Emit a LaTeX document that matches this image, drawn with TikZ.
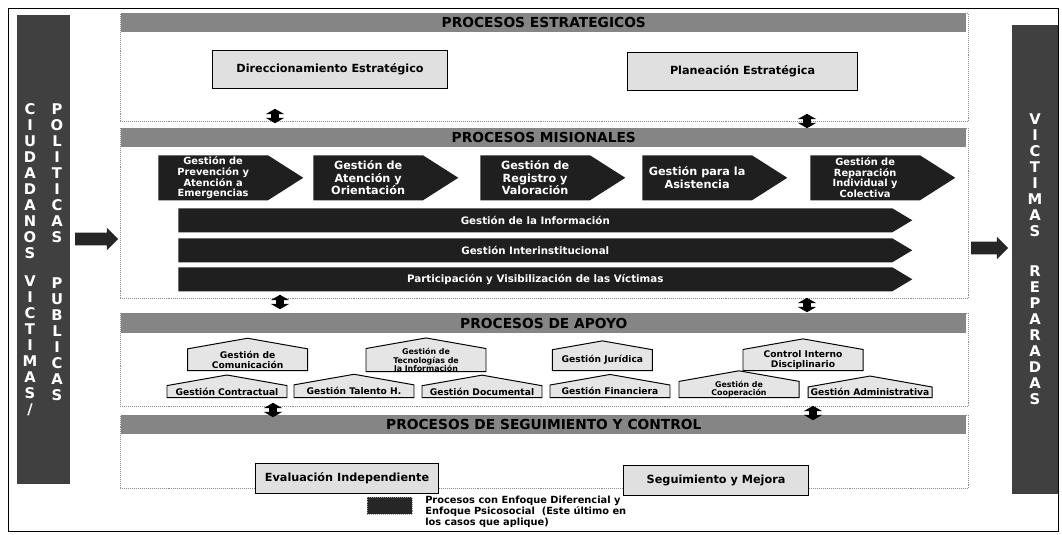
\documentclass[tikz,border=0pt]{standalone}
\usepackage{fontspec}
\setmainfont{DejaVu Sans}
\usetikzlibrary{shapes.symbols,shapes.arrows}

\tikzset{
  secframe/.style={rectangle, draw=black!45, densely dotted, line width=0.4pt, anchor=north west},
  band/.style={rectangle, fill=black!48, anchor=north west, minimum width=211.25mm, minimum height=4.75mm, inner sep=0pt, font=\bfseries\fontsize{9.8}{10}\selectfont},
  sidebar/.style={rectangle, fill=black!75, anchor=north west, inner sep=0pt},
  letters/.style={anchor=north, inner sep=0pt, align=center, text=white, font=\bfseries\fontsize{10.5}{11.4}\selectfont},
  procbox/.style={rectangle, draw=black, line width=0.8pt, fill=black!12, anchor=north west, minimum height=9.5mm, font=\bfseries\fontsize{8}{9}\selectfont},
  chevron/.style={signal, signal to=east, signal from=nowhere, signal pointer angle=65, fill=black!88, text=white, anchor=north west, minimum width=36.25mm, minimum height=11.25mm, inner sep=1pt, align=center, font=\bfseries\fontsize{8}{9}\selectfont},
  longarrow/.style={signal, signal to=east, signal from=nowhere, signal pointer angle=62, fill=black!88, text=white, anchor=north west, minimum width=183.5mm, minimum height=6mm, inner sep=0pt, font=\bfseries\fontsize{7.3}{9}\selectfont},
  house/.style={signal, signal to=north, signal from=nowhere, signal pointer angle=160, draw=black, line width=0.7pt, fill=black!10, anchor=south, inner sep=0pt, align=center, font=\bfseries\fontsize{6.5}{7}\selectfont},
  updown/.style={double arrow, rotate=90, fill=black, minimum height=3.6mm, minimum width=4.5mm, double arrow head extend=1.35mm, double arrow tip angle=120, inner xsep=0pt, inner ysep=0.9mm},
  bigarrow/.style={single arrow, fill=black!85, minimum height=10.75mm, minimum width=5.5mm, single arrow head extend=1.25mm, inner xsep=0pt, inner ysep=1.5mm}
}

\begin{document}
\begin{tikzpicture}
\useasboundingbox (0,0) rectangle (26.55,-13.35);
\node (frame) [rectangle, draw, line width=0.6pt, minimum width=262.5mm, minimum height=130.75mm, anchor=north west] at (0.2,-0.2) {};

% columnas laterales
\node (barL) [sidebar, minimum width=13.25mm, minimum height=117.25mm] at (0.425,-0.375) {};
\node (ciudadanos) [letters] at (0.75,-2.575) {C\\I\\U\\D\\A\\D\\A\\N\\O\\S};
\node (victimasL) [letters] at (0.75,-6.875) {V\\I\\C\\T\\I\\M\\A\\S\\/};
\node (politicas) [letters] at (1.425,-2.575) {P\\O\\L\\I\\T\\I\\C\\A\\S};
\node (publicas) [letters] at (1.425,-6.925) {P\\U\\B\\L\\I\\C\\A\\S};

\node (barR) [sidebar, minimum width=11.5mm, minimum height=117.25mm] at (25.3,-0.625) {};
\node (victimasR) [letters] at (25.875,-2.825) {V\\I\\C\\T\\I\\M\\A\\S};
\node (reparadas) [letters] at (25.875,-6.625) {R\\E\\P\\A\\R\\A\\D\\A\\S};

\node (flujoIn) [bigarrow] at (2.3375,-5.975) {};
\node (flujoOut) [bigarrow, minimum height=9.25mm] at (24.66,-6.2) {};

% estrategicos
\node (secE) [secframe, minimum width=212mm, minimum height=27mm] at (3.0,-0.325) {};
\node (bandE) [band] at (3.025,-0.325) {PROCESOS ESTRATEGICOS};
\node (direccion) [procbox, minimum width=58.75mm] at (5.3,-1.25) {Direccionamiento Estratégico};
\node (planeacion) [procbox, minimum width=57.5mm] at (15.675,-1.3) {Planeación Estratégica};
\node (enlaceE1) [updown] at (6.875,-2.9) {};
\node (enlaceE2) [updown] at (20.175,-3.025) {};

% misionales
\node (secM) [secframe, minimum width=212mm, minimum height=42.5mm] at (3.0,-3.2) {};
\node (bandM) [band] at (3.025,-3.2) {PROCESOS MISIONALES};
\node (prevencion) [chevron, font=\bfseries\fontsize{7}{7.6}\selectfont] at (3.95,-3.875) {Gestión de\\Prevención y\\Atención a\\Emergencias};
\node (atencion) [chevron] at (7.825,-3.875) {Gestión de\\Atención y\\Orientación};
\node (registro) [chevron] at (12.0,-3.875) {Gestión de\\Registro y\\Valoración};
\node (asistencia) [chevron] at (16.05,-3.875) {Gestión para la\\Asistencia};
\node (reparacion) [chevron, font=\bfseries\fontsize{7}{7.6}\selectfont] at (20.25,-3.875) {Gestión de\\Reparación\\Individual y\\Colectiva};
\node (informacion) [longarrow] at (4.45,-5.2) {Gestión de la Información};
\node (interinst) [longarrow] at (4.45,-5.95) {Gestión Interinstitucional};
\node (participacion) [longarrow] at (4.45,-6.675) {Participación y Visibilización de las Víctimas};
\node (enlaceM1) [updown] at (7.0,-7.55) {};
\node (enlaceM2) [updown] at (20.175,-7.625) {};

% apoyo
\node (secA) [secframe, minimum width=212mm, minimum height=23.25mm] at (3.0,-7.825) {};
\node (bandA) [band, minimum height=5mm] at (3.025,-7.825) {PROCESOS DE APOYO};
\node (comunicacion) [house, minimum width=30mm, minimum height=7mm] at (6.19,-9.275) {Gestión de\\Comunicación};
\node (tecnologia) [house, minimum width=30mm, minimum height=7mm, font=\bfseries\fontsize{5.6}{5.9}\selectfont] at (10.65,-9.3) {Gestión de\\Tecnologías de\\la Información};
\node (juridica) [house, minimum width=25mm, minimum height=7mm] at (15.06,-9.275) {Gestión Jurídica};
\node (control) [house, minimum width=30mm, minimum height=7mm] at (20.075,-9.275) {Control Interno\\Disciplinario};
\node (contractual) [house, minimum width=30mm, minimum height=5.25mm] at (5.675,-9.95) {Gestión Contractual};
\node (talento) [house, minimum width=30mm, minimum height=5.25mm] at (8.85,-9.95) {Gestión Talento H.};
\node (documental) [house, minimum width=30mm, minimum height=5.25mm] at (12.05,-9.95) {Gestión Documental};
\node (financiera) [house, minimum width=30mm, minimum height=5.25mm] at (15.25,-9.95) {Gestión Financiera};
\node (cooperacion) [house, minimum width=30mm, minimum height=5.25mm, font=\bfseries\fontsize{5.6}{5.8}\selectfont] at (18.475,-9.95) {Gestión de\\Cooperación};
\node (administrativa) [house, minimum width=31mm, minimum height=5.25mm] at (21.75,-9.95) {Gestión Administrativa};

% seguimiento y control
\node (secS) [secframe, minimum width=212mm, minimum height=18.25mm] at (3.0,-10.375) {};
\node (bandS) [band] at (3.025,-10.375) {PROCESOS DE SEGUIMIENTO Y CONTROL};
\node (enlaceA1) [updown] at (6.825,-10.25) {};
\node (enlaceA2) [updown] at (20.325,-10.325) {};
\node (evaluacion) [procbox, minimum width=45.75mm, minimum height=7.5mm] at (6.375,-11.575) {Evaluación Independiente};
\node (mejora) [procbox, minimum width=46.25mm, minimum height=7.5mm] at (15.575,-11.625) {Seguimiento y Mejora};

% leyenda
\node (leyendaBox) [rectangle, fill=black!85, draw=black!40, densely dotted, minimum width=11.25mm, minimum height=4.25mm, anchor=north west] at (9.175,-12.425) {};
\node (leyenda) [anchor=north west, align=left, inner sep=0pt, font=\bfseries\fontsize{7}{7.8}\selectfont] at (10.625,-12.4) {Procesos con Enfoque Diferencial y\\Enfoque Psicosocial \ (Este último en\\los casos que aplique)};
\end{tikzpicture}
\end{document}
